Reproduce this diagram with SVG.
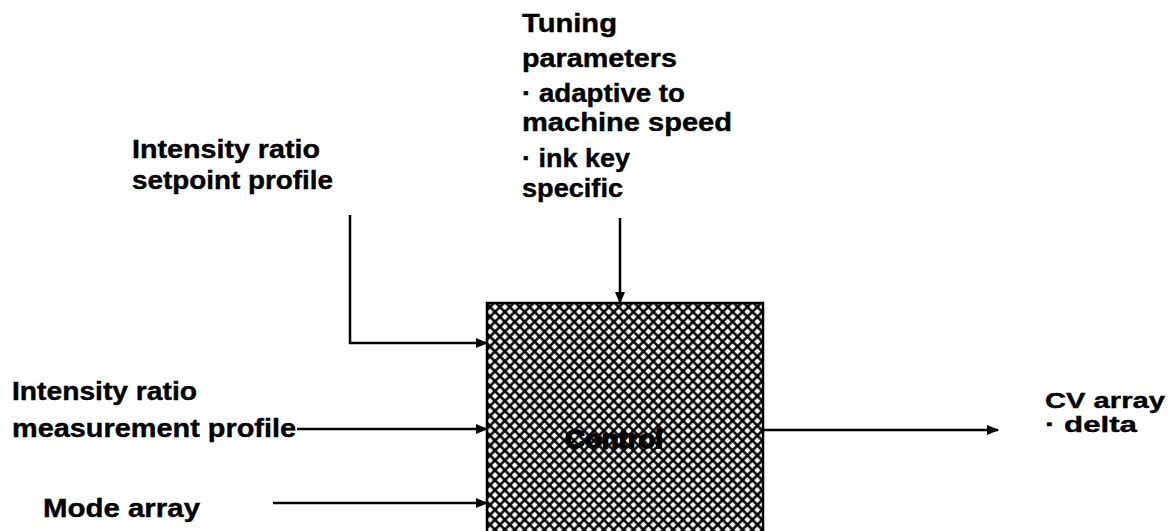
<svg xmlns="http://www.w3.org/2000/svg" width="1170" height="531" viewBox="0 0 1170 531">
  <style>
    .lbl { font-family: "Liberation Sans", Arial, sans-serif; font-weight: bold; font-size: 25px; fill: #000; stroke: #000; stroke-width: 0.4; }
    .small { font-size: 22px; }
    .wire { stroke: #000; stroke-width: 2.5; fill: none; }
  </style>
  <defs>
    <marker id="arr" markerWidth="12" markerHeight="10" refX="11" refY="5" orient="auto" markerUnits="userSpaceOnUse">
      <path d="M0,0 L12,5 L0,10 Z" fill="#000"/>
    </marker>
    <pattern id="hatch" width="7" height="7" patternUnits="userSpaceOnUse" patternTransform="rotate(45)">
      <rect width="7" height="7" fill="#fff"/>
      <path d="M0,3.5 H7 M3.5,0 V7" stroke="#000" stroke-width="2.5"/>
    </pattern>
  </defs>

  <rect width="1170" height="531" fill="#fff"/>

  <g id="control">
    <rect x="487" y="303" width="276" height="240" fill="url(#hatch)" stroke="#000" stroke-width="2.5"/>
    <text class="lbl" x="565" y="448" textLength="98" lengthAdjust="spacingAndGlyphs" style="stroke-width:1.4">Control</text>
  </g>

  <g id="tuning">
    <text class="lbl" x="522" y="32" textLength="95" lengthAdjust="spacingAndGlyphs">Tuning</text>
    <text class="lbl" x="522" y="67" textLength="155" lengthAdjust="spacingAndGlyphs">parameters</text>
    <text class="lbl" x="522" y="102" textLength="163" lengthAdjust="spacingAndGlyphs">· adaptive to</text>
    <text class="lbl" x="522" y="131" textLength="210" lengthAdjust="spacingAndGlyphs">machine speed</text>
    <text class="lbl" x="522" y="167" textLength="108" lengthAdjust="spacingAndGlyphs">· ink key</text>
    <text class="lbl" x="522" y="197" textLength="101" lengthAdjust="spacingAndGlyphs">specific</text>
  </g>

  <g id="setpoint">
    <text class="lbl" x="132" y="158" textLength="188" lengthAdjust="spacingAndGlyphs">Intensity ratio</text>
    <text class="lbl" x="132" y="189" textLength="201" lengthAdjust="spacingAndGlyphs">setpoint profile</text>
  </g>

  <g id="measurement">
    <text class="lbl" x="12" y="400" textLength="185" lengthAdjust="spacingAndGlyphs">Intensity ratio</text>
    <text class="lbl" x="12" y="437" textLength="284" lengthAdjust="spacingAndGlyphs">measurement profile</text>
  </g>

  <g id="mode">
    <text class="lbl" x="43" y="517" textLength="157" lengthAdjust="spacingAndGlyphs">Mode array</text>
  </g>

  <g id="cv">
    <text class="lbl small" x="1045" y="408" textLength="120" lengthAdjust="spacingAndGlyphs">CV array</text>
    <text class="lbl small" x="1045" y="432" textLength="92" lengthAdjust="spacingAndGlyphs">· delta</text>
  </g>

  <g id="connectors">
    <polyline class="wire" points="350,215 350,343 487,343" marker-end="url(#arr)"/>
    <line class="wire" x1="620" y1="218" x2="620" y2="303" marker-end="url(#arr)"/>
    <line class="wire" x1="297" y1="429" x2="487" y2="429" marker-end="url(#arr)"/>
    <line class="wire" x1="273" y1="503" x2="487" y2="503" marker-end="url(#arr)"/>
    <line class="wire" x1="763" y1="430" x2="998" y2="430" marker-end="url(#arr)"/>
  </g>
</svg>
